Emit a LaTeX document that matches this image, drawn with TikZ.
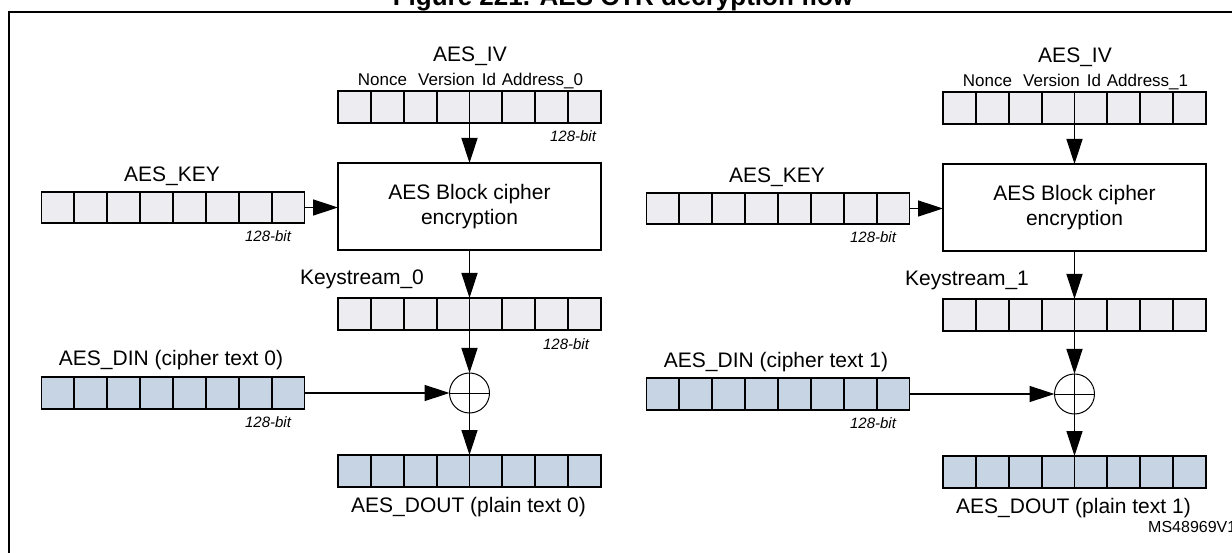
\documentclass[tikz,border=0pt]{standalone}
\usepackage{fontspec}
\setmainfont{Liberation Sans}
\usetikzlibrary{arrows.meta,calc}
\definecolor{regGray}{RGB}{236,236,241}
\definecolor{regBlue}{RGB}{198,212,228}
\tikzset{
  reg/.style={draw, line width=1.8pt, minimum width=263pt, minimum height=32pt, inner sep=0pt, outer sep=0pt},
  celline/.style={line width=1.8pt},
  arr/.style={line width=1.5pt, -{Triangle[length=25pt,width=16pt]}},
  lbl/.style={inner sep=0pt, anchor=base, font=\fontsize{21}{25}\selectfont},
  fld/.style={inner sep=0pt, anchor=base, font=\fontsize{17}{20}\selectfont},
  bits/.style={inner sep=0pt, anchor=base, font=\fontsize{15}{18}\selectfont\itshape},
  ciph/.style={draw, line width=2pt, minimum width=263pt, minimum height=87pt, inner sep=0pt, outer sep=0pt, align=center, font=\fontsize{21}{25}\selectfont},
  xorc/.style={draw, circle, line width=1pt, minimum size=40pt, inner sep=0pt, outer sep=0pt},
}
\newcommand\regcells[1]{\foreach \k in {1,...,7}{\draw[celline] ($(#1.north west)!\k/8!(#1.north east)$) -- ($(#1.south west)!\k/8!(#1.south east)$);}}
\newcommand\ctrhalf[2]{%
  \node[lbl] (ivt#1) at (470,62) {AES\_IV};
  \node[fld] (fn#1) at (382.5,86) {Nonce};
  \node[fld] (fv#1) at (446.5,86) {Version};
  \node[fld] (fi#1) at (489,86) {Id};
  \node[fld] (fa#1) at (542.5,86) {Address\_#1};
  \node[reg, fill=regGray] (iv#1) at (469.5,107) {};
  \regcells{iv#1}
  \node[ciph] (aes#1) at (469.5,206.5) {AES Block cipher\\encryption};
  \node[lbl] (kt#1) at (172,182) {AES\_KEY};
  \node[reg, fill=regGray, minimum height=31pt] (key#1) at (173,207.5) {};
  \regcells{key#1}
  \node[bits] (kb#1) at (268,242) {128-bit};
  \node[lbl] (kst#1) at (362,285) {Keystream\_#1};
  \node[reg, fill=regGray] (ks#1) at (469.5,314) {};
  \regcells{ks#1}
  \node[xorc] (xor#1) at (469.5,393) {};
  \draw[line width=1pt] (xor#1.north) -- (xor#1.south) (xor#1.west) -- (xor#1.east);
  \node[lbl] (dint#1) at (171,366) {AES\_DIN (cipher text #1)};
  \node[reg, fill=regBlue] (din#1) at (173,393) {};
  \regcells{din#1}
  \node[bits] (db#1) at (268,427) {128-bit};
  \node[reg, fill=regBlue] (dout#1) at (469.5,471) {};
  \regcells{dout#1}
  \node[lbl] (doutt#1) at (468.5,512) {AES\_DOUT (plain text #1)};
  \ifnum#2=1
    \node[bits] (ivb#1) at (573,142) {128-bit};
    \node[bits] (ksb#1) at (566,349) {128-bit};
  \fi
  \draw[arr] (iv#1.south) -- (aes#1.north);
  \draw[arr] (key#1.east) -- (key#1.east -| aes#1.west);
  \draw[arr] (aes#1.south) -- (ks#1.north);
  \draw[arr] (ks#1.south) -- (xor#1.north);
  \draw[arr] (din#1.east) -- (xor#1.west);
  \draw[arr] (xor#1.south) -- (dout#1.north);
}
\begin{document}
\begin{tikzpicture}[x=1pt,y=-1pt]
  \useasboundingbox (0,0) rectangle (1232,553);
  \clip (0,0) rectangle (1232,553);
  \fill[white] (0,0) rectangle (1232,553);
  \node[inner sep=0pt, anchor=base, font=\fontsize{26}{30}\selectfont\bfseries] (title) at (623,6) {Figure 221. AES CTR decryption flow};
  \draw[line width=2.4pt] (8.7,560) -- (8.7,12.2) -- (1240,12.2);
  \ctrhalf{0}{1}
  \begin{scope}[xshift=605pt, yshift=-1pt]
    \ctrhalf{1}{0}
  \end{scope}
  \node[inner sep=0pt, anchor=base west, font=\fontsize{16}{19}\selectfont] (ms) at (1148,532) {MS48969V1};
\end{tikzpicture}
\end{document}
